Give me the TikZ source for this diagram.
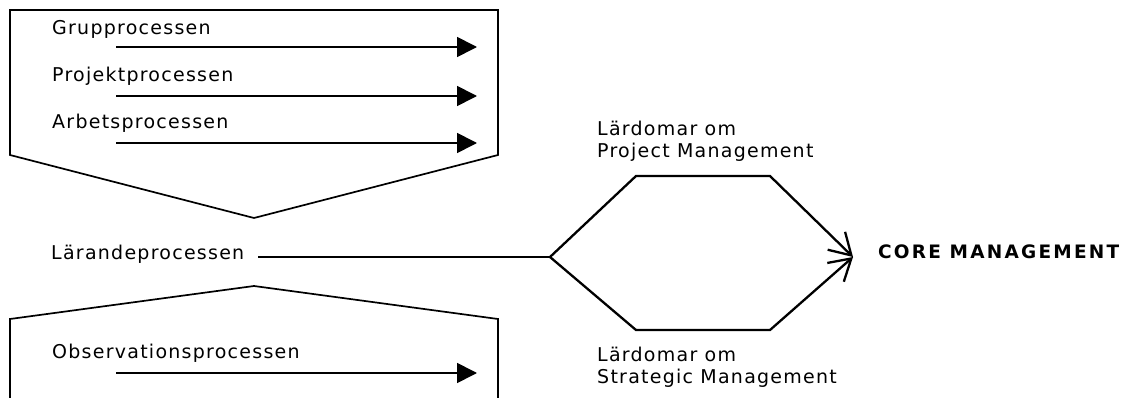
\documentclass[tikz,border=0pt]{standalone}
\usepackage{fontspec}
\usetikzlibrary{arrows.meta}
\newfontfamily\lblfont[LetterSpace=6.6]{DejaVu Sans}
\newfontfamily\corefont[LetterSpace=12,BoldFont={DejaVu Sans Bold}]{DejaVu Sans}
\begin{document}
\begin{tikzpicture}[x=1pt,y=-1pt,
  lbl/.style={inner sep=0pt, anchor=base west, font=\lblfont\fontsize{19}{22}\selectfont, align=left},
  frame/.style={draw=black, line width=1.7pt, line join=miter},
  flow/.style={draw=black, line width=1.7pt, -{Triangle[length=20pt,width=20pt]}},
  hexedge/.style={draw=black, line width=2.3pt, line join=miter, -{Straight Barb[length=21pt,width=25pt,line width=2.3pt]}}]
  \useasboundingbox (0,0) rectangle (1132,398);

  % upper process frame (points downwards)
  \draw[frame] (10,155) -- (10,10) -- (498,10) -- (498,155) -- (254,218) -- cycle;
  % lower process frame (points upwards, runs off the bottom)
  \draw[frame] (10,400) -- (10,319) -- (254,286) -- (498,319) -- (498,400);

  % process labels and arrows
  \node[lbl] (grp) at (52,35) {Grupprocessen};
  \node[lbl] (prj) at (52,82) {Projektprocessen};
  \node[lbl] (arb) at (52,129) {Arbetsprocessen};
  \node[lbl] (obs) at (52,358) {Observationsprocessen};
  \foreach \n/\y in {a/47,b/96,c/143,d/373} {
    \coordinate (s\n) at (116,\y);
    \coordinate (e\n) at (477,\y);
    \draw[flow] (s\n) -- (e\n);
  }

  % learning process feeding the two lessons
  \node[lbl] (lar) at (51,259) {Lärandeprocessen};
  \coordinate (hl) at (550,257);
  \coordinate (hr) at (853,257);
  \coordinate (ht1) at (636,176);
  \coordinate (ht2) at (770,176);
  \coordinate (hb1) at (636,330);
  \coordinate (hb2) at (770,330);
  \coordinate (ls) at (258,257);
  \draw[line width=2.3pt] (ls) -- (hl);
  \draw[hexedge] (hl) -- (ht1) -- (ht2) -- (hr);
  \draw[hexedge] (hl) -- (hb1) -- (hb2) -- (hr);

  \node[lbl] (pm) at (597,158) {Lärdomar om\\Project Management};
  \node[lbl] (sm) at (597,383) {Lärdomar om\\Strategic Management};
  \node[inner sep=0pt, anchor=base west, font=\corefont\bfseries\fontsize{18.5}{22}\selectfont] (core) at (878,258) {CORE MANAGEMENT};
\end{tikzpicture}
\end{document}
